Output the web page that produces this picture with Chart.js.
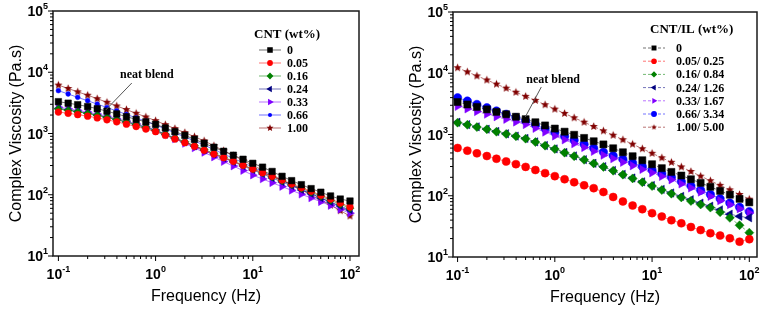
<!DOCTYPE html>
<html>
<head>
<meta charset="utf-8">
<script src="https://cdn.jsdelivr.net/npm/chart.js@4.4.1/dist/chart.umd.min.js"></script>
<style>
  body { margin: 0; background: #fff; }
  #wrap { position: relative; width: 765px; height: 311px; }
  canvas { position: absolute; top: 0; }
  #left { left: 0; }
  #right { left: 382px; }
</style>
</head>
<body>
<div id="wrap">
  <canvas id="left" width="382" height="311"></canvas>
  <canvas id="right" width="383" height="311"></canvas>
</div>
<script>
// frequency sweep, Hz
const frequency = [0.1, 0.126, 0.158, 0.2, 0.251, 0.316, 0.398, 0.501, 0.631, 0.794,
  1, 1.26, 1.58, 2, 2.51, 3.16, 3.98, 5.01, 6.31, 7.94,
  10, 12.6, 15.8, 20, 25.1, 31.6, 39.8, 50.1, 63.1, 79.4, 100];

// left panel: CNT (wt%)
const cntLabels = ['0', '0.05', '0.16', '0.24', '0.33', '0.66', '1.00'];
const cnt0   = [3310, 3126, 2951, 2754, 2541, 2317, 2089, 1884, 1698, 1549, 1413, 1230, 1072, 933, 804, 692, 596, 513, 442, 380, 326, 282, 240, 200, 170, 146, 126, 110, 95.5, 85.1, 79];
const cnt005 = [2239, 2138, 2032, 1919, 1799, 1675, 1549, 1422, 1300, 1183, 1072, 933, 813, 708, 617, 531, 462, 403, 351, 302, 263, 229, 200, 174, 150, 130, 114, 97.7, 85.1, 73.3, 63.1];
const cnt016 = [2512, 2382, 2254, 2118, 1977, 1832, 1687, 1542, 1400, 1262, 1127, 977, 847, 735, 637, 550, 475, 411, 355, 305, 263, 228, 197, 170, 147, 127, 110, 94.4, 81.3, 70, 60.3];
const cnt024 = [2570, 2432, 2291, 2148, 1995, 1841, 1687, 1535, 1387, 1245, 1109, 959, 830, 718, 621, 537, 462, 398, 343, 295, 254, 219, 188, 162, 140, 120, 104, 88.7, 76.2, 65.5, 56.2];
const cnt033 = [2692, 2541, 2388, 2234, 2075, 1914, 1754, 1596, 1442, 1294, 1148, 968, 817, 689, 581, 490, 413, 348, 294, 248, 209, 181, 157, 136, 118, 102, 88.7, 76.9, 66.7, 57.8, 50.1];
const cnt066 = [5010, 4416, 3890, 3428, 3020, 2655, 2333, 2051, 1803, 1585, 1380, 1189, 1023, 881, 755, 646, 547, 463, 393, 333, 282, 239, 202, 171, 145, 123, 104, 88.3, 74.8, 63.4, 53.7];
const cnt100 = [6170, 5430, 4790, 4220, 3700, 3236, 2818, 2455, 2138, 1862, 1622, 1396, 1202, 1035, 887, 759, 631, 525, 437, 363, 302, 251, 209, 174, 145, 120, 98.9, 81.7, 67.6, 55, 45];

// right panel: CNT/IL (wt%)
const ilLabels = ['0', '0.05/ 0.25', '0.16/ 0.84', '0.24/ 1.26', '0.33/ 1.67', '0.66/ 3.34', '1.00/ 5.00'];
const il0   = [3390, 3090, 2820, 2570, 2340, 2140, 1950, 1780, 1585, 1406, 1250, 1112, 989, 879, 776, 689, 596, 513, 442, 380, 327, 282, 245, 214, 186, 162, 140, 120, 104, 89, 78];
const il005 = [603, 545, 492, 445, 402, 363, 328, 296, 263, 234, 209, 186, 166, 148, 133, 115, 95.5, 80.7, 69.2, 60.3, 52, 45.7, 39.8, 35.5, 30.9, 27.5, 24.5, 22.4, 20.2, 17.8, 19.5];
const il016 = [1560, 1440, 1320, 1215, 1110, 1020, 935, 855, 752, 657, 578, 505, 443, 386, 337, 296, 256, 221, 192, 166, 144, 124, 108, 94, 82, 72, 64, 54, 43.6, 33, 25];
const il024 = [1585, 1452, 1334, 1222, 1122, 1028, 942, 863, 759, 661, 582, 509, 447, 389, 339, 299, 259, 224, 195, 169, 147, 127, 111, 97.7, 86.1, 75.9, 67.6, 58.9, 50.1, 46.2, 43.7];
const il033 = [2880, 2620, 2370, 2150, 1950, 1770, 1600, 1455, 1259, 1096, 946, 818, 708, 614, 531, 459, 403, 352, 309, 269, 237, 207, 182, 156, 134, 115, 97.7, 83.2, 71.6, 61.4, 52.5];
const il066 = [3980, 3520, 3100, 2740, 2420, 2140, 1890, 1667, 1445, 1250, 1080, 933, 804, 692, 598, 516, 451, 394, 344, 300, 262, 229, 200, 170, 145, 123, 105, 89.5, 76.2, 65, 55];
const il100 = [12300, 10540, 9060, 7760, 6650, 5710, 4900, 4200, 3610, 3060, 2600, 2210, 1875, 1590, 1352, 1148, 973, 822, 695, 586, 494, 417, 352, 296, 249, 209, 176, 148, 125, 105, 88];

// axis decades that get a 10^n label
const xDecades = [0.1, 1, 10, 100];
const yDecades = [10, 100, 1000, 10000, 100000];

// styles
const colors = ['#000000', '#ff0000', '#008000', '#000080', '#8000ff', '#0000ff', '#800000'];
const shapes = ['rect', 'circle', 'rectRot', 'triangle', 'triangle', 'circle', 'star'];
const rotations = [0, 0, 0, -90, 90, 0, 0];

function fade(hex, a) {
  const n = parseInt(hex.slice(1), 16);
  return `rgba(${n >> 16},${(n >> 8) & 255},${n & 255},${a})`;
}

function starImage(color, r) {
  const c = document.createElement('canvas');
  const s = Math.ceil(r * 2 + 2);
  c.width = s; c.height = s;
  const g = c.getContext('2d');
  g.translate(s / 2, s / 2);
  g.beginPath();
  for (let k = 0; k < 10; k++) {
    const rr = k % 2 ? r * 0.45 : r;
    const ang = -Math.PI / 2 + k * Math.PI / 5;
    g.lineTo(Math.cos(ang) * rr, Math.sin(ang) * rr);
  }
  g.closePath();
  g.fillStyle = color;
  g.fill();
  return c;
}

// marker for the legend rows
function drawMarker(ctx, i, r, x, y) {
  ctx.fillStyle = colors[i];
  ctx.beginPath();
  if (shapes[i] === 'rect') {
    const s = Math.SQRT1_2 * r;
    ctx.rect(x - s, y - s, 2 * s, 2 * s);
  } else if (shapes[i] === 'circle') {
    ctx.arc(x, y, r, 0, Math.PI * 2);
  } else if (shapes[i] === 'rectRot') {
    ctx.moveTo(x - r, y); ctx.lineTo(x, y - r); ctx.lineTo(x + r, y); ctx.lineTo(x, y + r);
  } else if (shapes[i] === 'triangle') {
    let rad = rotations[i] * Math.PI / 180;
    for (let k = 0; k < 3; k++) {
      ctx.lineTo(x + Math.sin(rad) * r, y - Math.cos(rad) * r);
      rad += Math.PI * 2 / 3;
    }
  } else {
    const img = starImage(colors[i], r);
    ctx.drawImage(img, x - img.width / 2, y - img.height / 2);
    return;
  }
  ctx.closePath();
  ctx.fill();
}

function niceSig(v) {
  const e = Math.floor(Math.log10(v) + 1e-9);
  const m = v / Math.pow(10, e);
  const r = Math.round(m);
  return Math.abs(m - r) < 1e-6 ? r : 0;
}

const sansBold = (px) => `bold ${px}px "Liberation Sans", Arial, sans-serif`;
const serifBold = (px) => `bold ${px}px "Liberation Serif", "Times New Roman", serif`;

function makePanel(canvasId, p) {
  const datasets = p.series.map((values, i) => ({
    label: p.labels[i],
    data: frequency.map((f, k) => ({ x: f, y: values[k] })),
    borderColor: fade(colors[i], 0.55),
    borderWidth: 1,
    borderDash: p.dash,
    pointStyle: shapes[i] === 'star' ? starImage(colors[i], p.radii[i]) : shapes[i],
    pointRotation: rotations[i],
    pointRadius: p.radii[i],
    pointBackgroundColor: colors[i],
    pointBorderColor: colors[i],
    pointBorderWidth: 0.5
  }));

  const decor = {
    id: 'decor',
    afterDraw(chart) {
      const ctx = chart.ctx;
      const a = chart.chartArea;
      const xs = chart.scales.x, ys = chart.scales.y;
      ctx.save();

      // frame
      ctx.strokeStyle = '#1a1a1a';
      ctx.lineWidth = 1.5;
      ctx.strokeRect(a.left, a.top, a.right - a.left, a.bottom - a.top);

      // tick marks, outward
      ctx.lineWidth = 1;
      ctx.strokeStyle = '#000';
      xs.ticks.forEach(t => {
        const s = niceSig(t.value);
        if (!s) return;
        const px = xs.getPixelForValue(t.value);
        ctx.beginPath();
        ctx.moveTo(px, a.bottom);
        ctx.lineTo(px, a.bottom + (s === 1 ? 5 : 3));
        ctx.stroke();
      });
      ys.ticks.forEach(t => {
        const s = niceSig(t.value);
        if (!s) return;
        const py = ys.getPixelForValue(t.value);
        ctx.beginPath();
        ctx.moveTo(a.left, py);
        ctx.lineTo(a.left - (s === 1 ? 5 : 3), py);
        ctx.stroke();
      });

      // tick labels 10^n
      ctx.fillStyle = '#000';
      ctx.textBaseline = 'alphabetic';
      ctx.textAlign = 'left';
      xDecades.forEach(v => {
        const px = xs.getPixelForValue(v);
        const e = String(Math.round(Math.log10(v)));
        ctx.font = sansBold(14);
        const w1 = ctx.measureText('10').width;
        ctx.font = sansBold(9);
        const w2 = ctx.measureText(e).width;
        const x0 = px - (w1 + w2) / 2;
        ctx.font = sansBold(14);
        ctx.fillText('10', x0, a.bottom + 22.5);
        ctx.font = sansBold(9);
        ctx.fillText(e, x0 + w1, a.bottom + 16);
      });
      yDecades.forEach(v => {
        const py = ys.getPixelForValue(v);
        const e = String(Math.round(Math.log10(v)));
        ctx.font = sansBold(14);
        const w1 = ctx.measureText('10').width;
        ctx.font = sansBold(9);
        const w2 = ctx.measureText(e).width;
        const x0 = a.left - 5 - w1 - w2;
        ctx.font = sansBold(14);
        ctx.fillText('10', x0, py + 5);
        ctx.font = sansBold(9);
        ctx.fillText(e, x0 + w1, py - 2);
      });

      // axis titles
      ctx.font = '16px "Liberation Sans", Arial, sans-serif';
      ctx.textAlign = 'center';
      ctx.fillText('Frequency (Hz)', (a.left + a.right) / 2, a.bottom + 45);
      ctx.save();
      ctx.translate(a.left - 36, (a.top + a.bottom) / 2);
      ctx.rotate(-Math.PI / 2);
      ctx.textBaseline = 'middle';
      ctx.fillText('Complex Viscosity (Pa.s)', 0, 0);
      ctx.restore();

      // legend
      const L = p.legend;
      ctx.textAlign = 'left';
      ctx.textBaseline = 'middle';
      ctx.font = serifBold(13);
      ctx.fillText(p.legendTitle, L.titleX, L.titleY);
      ctx.font = serifBold(12);
      p.labels.forEach((lab, i) => {
        const y = L.y0 + i * L.dy;
        ctx.save();
        ctx.strokeStyle = fade(colors[i], 0.55);
        ctx.lineWidth = 1;
        ctx.setLineDash(p.dash);
        ctx.beginPath();
        ctx.moveTo(L.x1, y);
        ctx.lineTo(L.x2, y);
        ctx.stroke();
        ctx.restore();
        drawMarker(ctx, i, p.radii[i] * L.scale, (L.x1 + L.x2) / 2, y);
        ctx.fillStyle = '#000';
        ctx.fillText(lab, L.textX, y + 1);
      });

      // "neat blend" note, placed in data space
      const n = p.note;
      ctx.strokeStyle = '#555';
      ctx.lineWidth = 1;
      ctx.beginPath();
      ctx.moveTo(xs.getPixelForValue(n.from[0]), ys.getPixelForValue(n.from[1]));
      ctx.lineTo(xs.getPixelForValue(n.to[0]), ys.getPixelForValue(n.to[1]));
      ctx.stroke();
      ctx.fillStyle = '#000';
      ctx.font = serifBold(12);
      ctx.fillText(n.text, xs.getPixelForValue(n.at[0]), ys.getPixelForValue(n.at[1]));

      ctx.restore();
    }
  };

  return new Chart(document.getElementById(canvasId), {
    type: 'line',
    data: { datasets },
    options: {
      responsive: false,
      animation: false,
      events: [],
      layout: { padding: p.padding },
      plugins: { legend: { display: false }, tooltip: { enabled: false } },
      scales: {
        x: {
          type: 'logarithmic', min: p.xMin, max: p.xMax,
          grid: { display: false }, border: { display: false },
          ticks: { display: false },
          afterFit: s => { s.height = p.xAxisHeight; }
        },
        y: {
          type: 'logarithmic', min: 10, max: 100000,
          grid: { display: false }, border: { display: false },
          ticks: { display: false },
          afterFit: s => { s.width = p.yAxisWidth; }
        }
      }
    },
    plugins: [decor]
  });
}

makePanel('left', {
  labels: cntLabels,
  series: [cnt0, cnt005, cnt016, cnt024, cnt033, cnt066, cnt100],
  legendTitle: 'CNT (wt%)',
  dash: [],
  radii: [4.6, 3.4, 4, 4.3, 4.5, 2.4, 4.3],
  xMin: 0.088, xMax: 123.8,
  padding: { top: 11, right: 23, left: 0, bottom: 0 },
  xAxisHeight: 55, yAxisWidth: 53,
  legend: { titleX: 254, titleY: 35, y0: 50, dy: 13, x1: 259, x2: 281, textX: 287, scale: 0.85 },
  note: { text: 'neat blend', at: [0.43, 9000], from: [0.569, 6670], to: [0.307, 2420] }
});

makePanel('right', {
  labels: ilLabels,
  series: [il0, il005, il016, il024, il033, il066, il100],
  legendTitle: 'CNT/IL (wt%)',
  dash: [3, 2],
  radii: [5, 4, 4.5, 4.8, 4.8, 4.2, 4.3],
  xMin: 0.0897, xMax: 120,
  padding: { top: 12, right: 8, left: 0, bottom: 0 },
  xAxisHeight: 54, yAxisWidth: 71,
  legend: { titleX: 268, titleY: 30, y0: 48, dy: 13.2, x1: 261, x2: 283, textX: 294, scale: 0.7 },
  note: { text: 'neat blend', at: [0.509, 7760], from: [0.726, 5970], to: [0.497, 1930] }
});
</script>
</body>
</html>
